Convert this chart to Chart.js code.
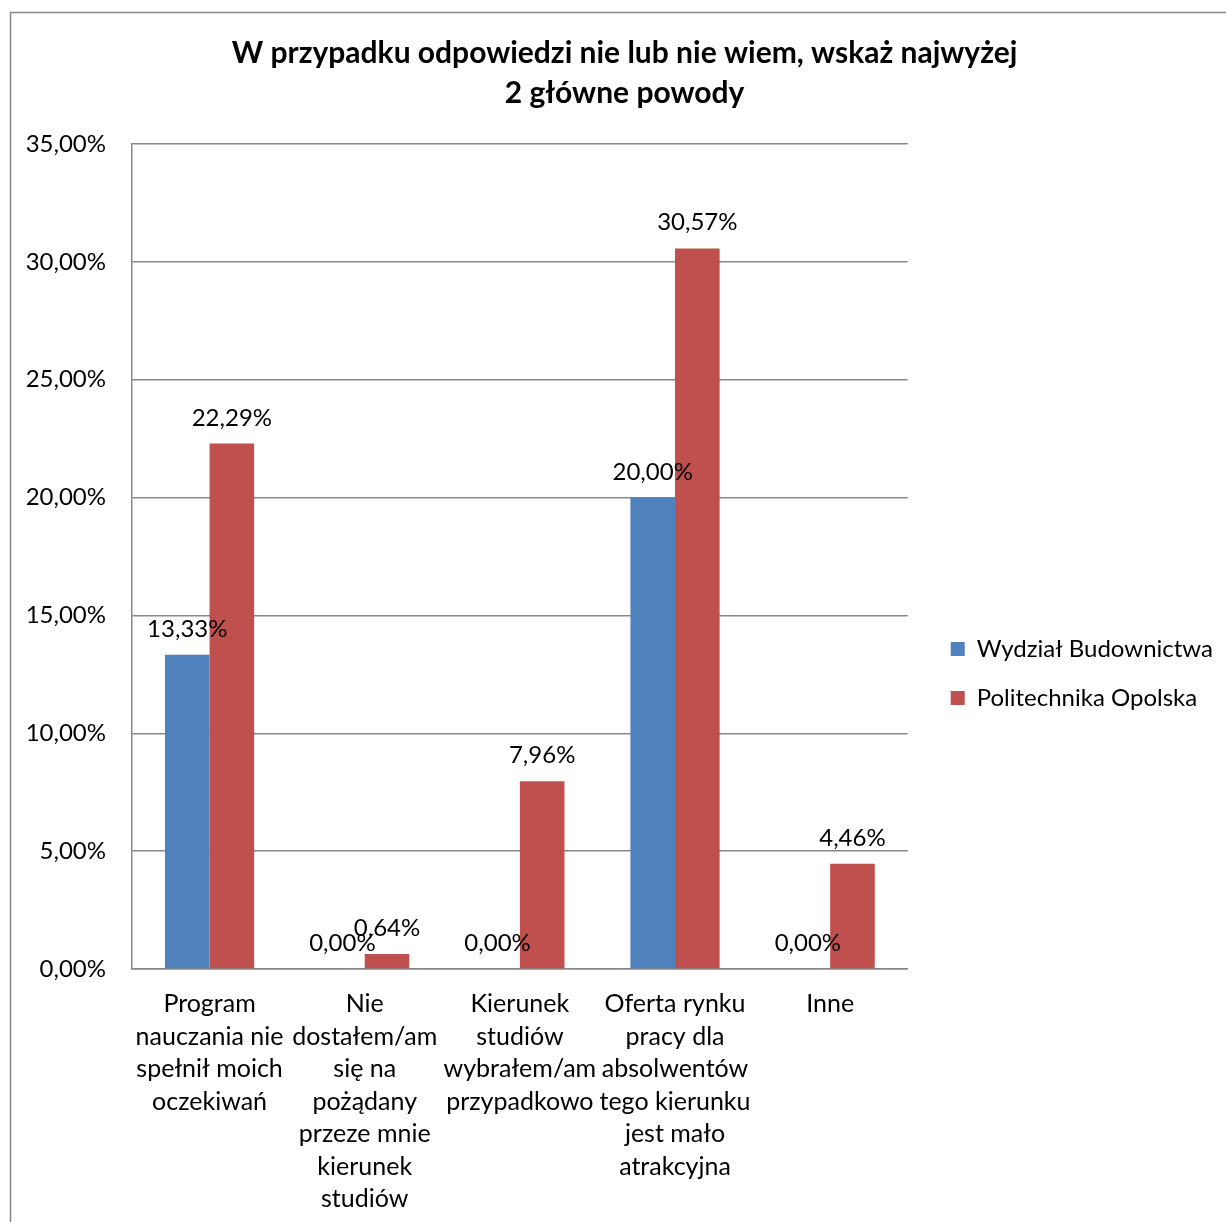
<!DOCTYPE html>
<html>
<head>
<meta charset="utf-8">
<script src="https://cdn.jsdelivr.net/npm/chart.js@4/dist/chart.umd.min.js"></script>
<style>
html,body{margin:0;padding:0;background:#fff;}
#wrap{position:relative;width:1226px;height:1222px;}
</style>
</head>
<body>
<div id="wrap"><canvas id="wykres"></canvas></div>
<script>
const KATEGORIE=[
 ['Program','nauczania nie','spełnił moich','oczekiwań'],
 ['Nie','dostałem/am','się na','pożądany','przeze mnie','kierunek','studiów'],
 ['Kierunek','studiów','wybrałem/am','przypadkowo'],
 ['Oferta rynku','pracy dla','absolwentów','tego kierunku','jest mało','atrakcyjna'],
 ['Inne']
];
const WYDZIAL=[13.33,0,0,20,0];
const POLITECHNIKA=[22.29,0.64,7.96,30.57,4.46];
const TYTUL=['W przypadku odpowiedzi nie lub nie wiem, wskaż najwyżej','2 główne powody'];

const FONT='Lato, "Liberation Sans", sans-serif';
const fmt=v=>Number(v).toFixed(2).replace('.',',')+'%';

// ramka wykresu (gora i lewa krawedz)
const ramka={
 id:'ramka',
 afterDraw(c){
  const ctx=c.ctx;
  ctx.save();
  ctx.strokeStyle='#878787';
  ctx.lineWidth=1.5;
  ctx.beginPath();
  ctx.moveTo(10.5,c.height);
  ctx.lineTo(10.5,12.5);
  ctx.lineTo(c.width,12.5);
  ctx.stroke();
  ctx.restore();
 }
};

// etykiety wartosci nad slupkami
const etykiety={
 id:'etykiety',
 afterDatasetsDraw(c){
  const ctx=c.ctx;
  ctx.save();
  ctx.font='24px '+FONT;
  ctx.fillStyle='#000';
  ctx.textAlign='center';
  ctx.textBaseline='alphabetic';
  c.data.datasets.forEach((ds,i)=>{
   c.getDatasetMeta(i).data.forEach((bar,j)=>{
    ctx.fillText(fmt(ds.data[j]),bar.x,bar.y-18);
   });
  });
  ctx.restore();
 }
};

new Chart(document.getElementById('wykres'),{
 type:'bar',
 data:{
  labels:KATEGORIE,
  datasets:[
   {label:'Wydział Budownictwa',data:WYDZIAL,backgroundColor:'#4F81BD'},
   {label:'Politechnika Opolska',data:POLITECHNIKA,backgroundColor:'#C0504D'}
  ]
 },
 options:{
  responsive:true,
  maintainAspectRatio:false,
  animation:false,
  categoryPercentage:0.575,
  barPercentage:1,
  layout:{padding:{left:26,right:3,top:0,bottom:0}},
  plugins:{
   title:{
    display:true,
    text:TYTUL,
    color:'#000',
    font:{family:FONT,size:30,weight:'bold',lineHeight:40/30},
    padding:{top:33,bottom:31}
   },
   legend:{
    position:'right',
    maxWidth:400,
    title:{display:true,text:'',font:{size:1,lineHeight:1},padding:{top:62,bottom:62}},
    labels:{
     color:'#000',
     font:{family:FONT,size:24},
     boxWidth:14,
     boxHeight:14,
     padding:25
    }
   },
   tooltip:{enabled:false}
  },
  scales:{
   x:{
    grid:{display:false},
    border:{display:true,color:'#878787',width:1.5},
    ticks:{
     color:'#000',
     font:{family:FONT,size:25,lineHeight:32.5/25},
     maxRotation:0,minRotation:0,autoSkip:false,padding:11
    },
    afterFit(s){s.height=253;}
   },
   y:{
    min:0,max:35,
    grid:{color:'#878787',lineWidth:1.5,drawTicks:false},
    border:{display:true,color:'#878787',width:1.5},
    ticks:{
     stepSize:5,color:'#000',padding:26,
     font:{family:FONT,size:24},
     callback:v=>fmt(v)
    },
    afterFit(s){s.width=106;}
   },
   odstep:{
    type:'linear',position:'right',display:true,
    grid:{display:false},border:{display:false},
    ticks:{display:false},
    afterFit(s){s.width=18;}
   }
  }
 },
 plugins:[ramka,etykiety]
});
</script>
</body>
</html>
